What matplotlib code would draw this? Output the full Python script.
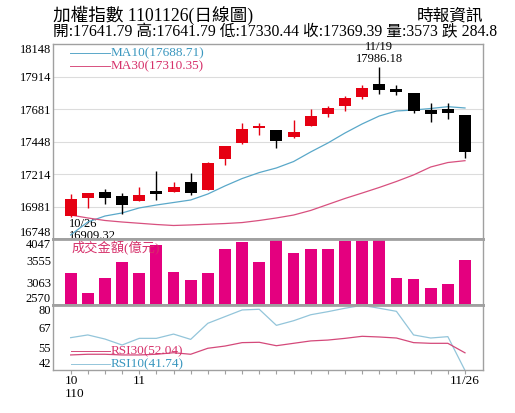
import matplotlib
matplotlib.use("Agg")
import matplotlib.pyplot as plt
import numpy as np

plt.rcParams['font.family'] = ['Liberation Serif', 'Noto Sans CJK TC', 'DejaVu Sans']

# trading days 10/26 .. 11/26 (110 = ROC year)
days = ['10/26', '10/27', '10/28', '10/29', '11/1', '11/2', '11/3', '11/4', '11/5',
        '11/8', '11/9', '11/10', '11/11', '11/12', '11/15', '11/16', '11/17', '11/18',
        '11/19', '11/22', '11/23', '11/24', '11/25', '11/26']

open_ = [16913, 17040, 17083, 17057, 17023, 17095, 17088, 17159, 17100, 17322, 17435, 17547,
         17528, 17478, 17561, 17643, 17705, 17770, 17861, 17825, 17794, 17676, 17681, 17641.79]
high = [17069, 17080, 17105, 17076, 17119, 17236, 17155, 17220, 17300, 17418, 17583, 17579,
        17530, 17602, 17679, 17705, 17777, 17854, 17986.18, 17854, 17796, 17722, 17722, 17641.79]
low = [16909.32, 16973, 16997, 16928, 17020, 17028, 17083, 17064, 17098, 17279, 17433, 17493,
       17404, 17476, 17558, 17626, 17669, 17751, 17787, 17782, 17650, 17588, 17607, 17330.44]
close = [17033, 17076, 17045, 16992, 17066, 17069, 17121, 17080, 17296, 17414, 17540, 17559,
         17452, 17518, 17633, 17691, 17758, 17834, 17818, 17801, 17667, 17646, 17655, 17369.39]

ma10 = [16777, 16870, 16913, 16935, 16971, 16992, 17010, 17028, 17071, 17129, 17182, 17225,
        17258, 17304, 17373, 17437, 17509, 17574, 17631, 17667, 17674, 17685, 17698, 17688.71]
ma30 = [16920, 16899, 16881, 16870, 16861, 16852, 16845, 16849, 16854, 16859, 16866, 16881,
        16899, 16920, 16953, 16996, 17039, 17078, 17118, 17161, 17208, 17265, 17297, 17310.35]

volume = [3293, 2848, 3180, 3542, 3293, 3910, 3307, 3119, 3284, 3813, 3985, 3542,
          4100, 3723, 3813, 3813, 4007, 4007, 4060, 3180, 3158, 2954, 3045, 3573]

rsi10 = [60.9, 62.5, 60.1, 56.6, 60.5, 60.5, 63.0, 59.9, 69.3, 73.2, 77.1, 77.5,
         68.1, 70.8, 74.3, 76.1, 78.1, 79.8, 78.1, 76.3, 62.5, 60.7, 61.5, 41.74]
rsi30 = [50.8, 51.2, 51.2, 50.8, 50.8, 51.2, 52.1, 51.2, 54.7, 56.0, 58.0, 58.2,
         56.2, 57.6, 59.0, 59.5, 60.5, 61.7, 61.3, 60.7, 58.0, 57.6, 57.6, 52.04]

price_ticks = [16748, 16981, 17214, 17448, 17681, 17914, 18148]
vol_ticks = [2570, 3063, 3555, 4047]
rsi_ticks = [42, 55, 67, 80]

RED = '#e50012'
MAG = '#e4007f'
MA10_C = '#5aa8c9'
MA30_C = '#d8507f'
GRAY = '#a0a0a0'

x = np.arange(len(days))
W, H = 515, 413
fig = plt.figure(figsize=(W / 100, H / 100), dpi=100)

left = 53 / W
width = 430 / W


def make_ax(top_px, bot_px):
    return fig.add_axes([left, 1 - bot_px / H, width, (bot_px - top_px) / H])


ax = make_ax(44, 239)
axv = make_ax(239, 305)
axr = make_ax(305, 370)

for a in (ax, axv, axr):
    a.set_xlim(-1.03, 24.05)
    for s in a.spines.values():
        s.set_color(GRAY)
        s.set_linewidth(1)
    a.tick_params(axis='y', length=0, pad=1.5, labelsize=9)
    a.tick_params(axis='x', length=0, labelbottom=False)

# thicker separators between panels
ax.spines['bottom'].set_linewidth(2)
axv.spines['top'].set_linewidth(2)
axv.spines['bottom'].set_linewidth(2)
axr.spines['top'].set_linewidth(2)


def set_ticks(a, ticks):
    a.set_yticks(ticks)
    a.set_yticklabels([str(t) for t in ticks])
    labs = a.get_yticklabels()
    labs[0].set_verticalalignment('bottom')
    labs[-1].set_verticalalignment('top')


# ---- price panel
ax.set_ylim(price_ticks[0], price_ticks[-1])
set_ticks(ax, price_ticks)
for t in price_ticks[1:-1]:
    ax.axhline(t, color='#dcdcdc', lw=0.8, zorder=0)

ax.plot(x, ma10, color=MA10_C, lw=0.9, zorder=2)
ax.plot(x, ma30, color=MA30_C, lw=0.9, zorder=2)

for i in x:
    o, h, l, c = open_[i], high[i], low[i], close[i]
    col = RED if c >= o else 'black'
    ax.vlines(i, l, h, color=col, lw=1, zorder=3)
    body = max(abs(c - o), 4)
    ax.bar(i, body, bottom=min(o, c), width=0.7, color=col, zorder=4)

# legend for MAs
ax.plot([0.04, 0.133], [0.954, 0.954], transform=ax.transAxes, color=MA10_C, lw=0.7)
ax.plot([0.04, 0.133], [0.887, 0.887], transform=ax.transAxes, color=MA30_C, lw=0.7)
ax.text(0.133, 0.954, 'MA10(%.2f)' % ma10[-1], transform=ax.transAxes, color='#3a97bf',
        fontsize=9.5, va='center', ha='left')
ax.text(0.133, 0.887, 'MA30(%.2f)' % ma30[-1], transform=ax.transAxes, color='#d6306a',
        fontsize=9.5, va='center', ha='left')

# high / low notes
hi = int(np.argmax(high))
lo = int(np.argmin(low))
ax.annotate('%s\n%.2f' % (days[hi], high[hi]), xy=(hi, high[hi]), xytext=(0, 1),
            textcoords='offset points', ha='center', va='bottom', fontsize=9,
            linespacing=1.0, annotation_clip=False)
ax.annotate('%s\n%.2f' % (days[lo], low[lo]), xy=(lo, low[lo]), xytext=(-1, -1),
            textcoords='offset points', ha='left', va='top', fontsize=9,
            linespacing=1.0, annotation_clip=False, zorder=1)

# ---- volume panel
axv.set_ylim(vol_ticks[0], vol_ticks[-1])
set_ticks(axv, vol_ticks)
axv.bar(x, np.array(volume) - vol_ticks[0], bottom=vol_ticks[0], width=0.69, color=MAG, zorder=2)
axv.text(0.042, 0.86, '成交金額(億元)', transform=axv.transAxes, color='#d6306a',
         fontsize=9.5, va='center', ha='left', zorder=3)

# ---- RSI panel
axr.set_ylim(rsi_ticks[0], rsi_ticks[-1])
set_ticks(axr, rsi_ticks)
axr.plot(x, rsi10, color='#93c5da', lw=0.9, clip_on=False)
axr.plot(x, rsi30, color='#d4497a', lw=0.9)
axr.plot([0.042, 0.133], [0.292, 0.292], transform=axr.transAxes, color='#d4497a', lw=0.7)
axr.plot([0.042, 0.133], [0.092, 0.092], transform=axr.transAxes, color='#93c5da', lw=0.7)
axr.text(0.133, 0.292, 'RSI30(%.2f)' % rsi30[-1], transform=axr.transAxes, color='#d6306a',
         fontsize=9.5, va='center', ha='left')
axr.text(0.133, 0.092, 'RSI10(%.2f)' % rsi10[-1], transform=axr.transAxes, color='#3a97bf',
         fontsize=9.5, va='center', ha='left')

axr.set_xticks(x)
axr.tick_params(axis='x', length=3, color=GRAY, direction='out')
axr.text(-0.35, -0.08, '10\n110', transform=axr.get_xaxis_transform(), ha='left', va='top',
         fontsize=9.5, linespacing=1.05)
axr.text(days.index('11/1'), -0.08, '11', transform=axr.get_xaxis_transform(), ha='center',
         va='top', fontsize=9.5)
axr.text(x[-1], -0.08, days[-1], transform=axr.get_xaxis_transform(), ha='center',
         va='top', fontsize=9.5)

# ---- header
fig.text(53 / W, 1 - 15 / H, '加權指數 1101126(日線圖)', fontsize=12.7, va='center', ha='left')
fig.text(483 / W, 1 - 17 / H, '時報資訊', fontsize=12, va='center', ha='right')
fig.text(53 / W, 1 - 32 / H,
         '開:%.2f 高:%.2f 低:%.2f 收:%.2f 量:3573 跌 284.8' % (open_[-1], high[-1], low[-1], close[-1]),
         fontsize=11.3, va='center', ha='left')

fig.savefig('out.png', dpi=100)
